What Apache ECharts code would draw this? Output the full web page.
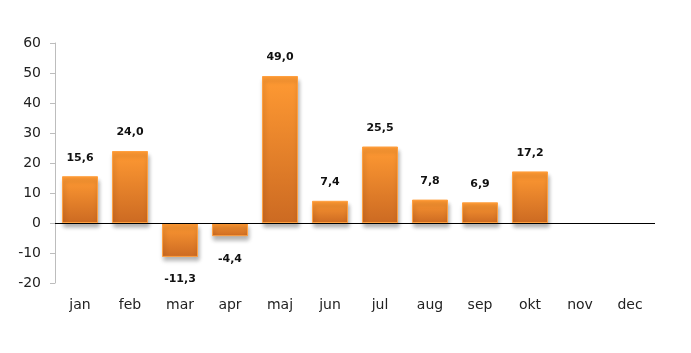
<!DOCTYPE html>
<html><head><meta charset="utf-8">
<script src="https://cdn.jsdelivr.net/npm/echarts@6/dist/echarts.min.js"></script>
<style>html,body{margin:0;padding:0;background:#fff}#c{width:691px;height:353px}</style>
</head><body><div id="c"></div>
<script>
const categories = ['jan','feb','mar','apr','maj','jun','jul','aug','sep','okt','nov','dec'];
const values = [15.6, 24.0, -11.3, -4.4, 49.0, 7.4, 25.5, 7.8, 6.9, 17.2, null, null];
const yTicks = {min: -20, max: 60, interval: 10};

const chart = echarts.init(document.getElementById('c'));
const grad = new echarts.graphic.LinearGradient(0, 0, 0, 1, [
  {offset: 0, color: '#FF9A33'},
  {offset: 1, color: '#CC6A22'}
]);
const data = values.map(v => v === null ? null : {
  value: v,
  label: {position: v < 0 ? 'bottom' : 'top', distance: v < 0 ? 17 : 13}
});
chart.setOption({
  animation: false,
  grid: {left: 55, right: 36, top: 43, bottom: 70},
  xAxis: {
    type: 'category', data: categories,
    axisLine: {show: false, onZero: false},
    axisTick: {show: false},
    axisLabel: {margin: 15, color: '#222', fontSize: 14, fontFamily: 'DejaVu Sans'}
  },
  yAxis: {
    type: 'value', min: yTicks.min, max: yTicks.max, interval: yTicks.interval,
    splitLine: {show: false},
    axisLine: {show: true, lineStyle: {color: '#bdbdbd'}},
    axisTick: {show: true, length: 5, lineStyle: {color: '#bdbdbd'}},
    axisLabel: {margin: 14, color: '#222', fontSize: 14, fontFamily: 'DejaVu Sans'}
  },
  series: [{
    type: 'bar', data: data, barWidth: '72%',
    itemStyle: {
      color: grad, borderColor: '#FFA040', borderWidth: 1,
      shadowColor: 'rgba(0,0,0,0.3)', shadowBlur: 4, shadowOffsetY: 4, shadowOffsetX: 1
    },
    label: {
      show: true, fontSize: 11, fontWeight: 'bold', color: '#111',
      fontFamily: 'DejaVu Sans',
      formatter: p => p.value.toFixed(1).replace('.', ',')
    },
    markLine: {
      silent: true, symbol: 'none', label: {show: false},
      lineStyle: {color: '#000', width: 1, type: 'solid'},
      data: [{yAxis: 0}]
    }
  }]
});
</script></body></html>
